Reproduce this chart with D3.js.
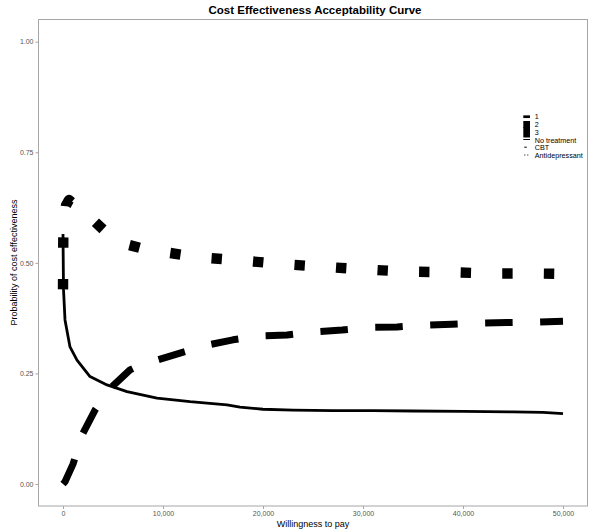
<!DOCTYPE html>
<html>
<head>
<meta charset="utf-8">
<script src="https://cdn.jsdelivr.net/npm/d3@7"></script>
<style>
  body { margin: 0; background: #fff; }
  text { font-family: "Liberation Sans", Arial, sans-serif; }
</style>
</head>
<body>
<div id="chart"></div>
<script>
// Chart values
const strategies = ['No treatment', 'CBT', 'Antidepressant'];
const sizeLabels = ['1', '2', '3'];
const xTicks = [0, 10000, 20000, 30000, 40000, 50000];
const yTicks = [0, 0.25, 0.5, 0.75, 1];

const noTreatment = [
  [0, 0.565], [50, 0.44], [200, 0.371], [700, 0.31], [1400, 0.28], [2700, 0.243],
  [4400, 0.224], [6400, 0.209], [9400, 0.194], [12700, 0.186], [16400, 0.179],
  [17700, 0.174], [20000, 0.169], [23000, 0.167], [27000, 0.166], [31000, 0.166],
  [35000, 0.165], [40000, 0.164], [45000, 0.163], [48000, 0.162], [50000, 0.159],
];

const cbt = [
  [0, 0.0], [200, 0.005], [500, 0.02], [1000, 0.045], [1500, 0.08], [2000, 0.115],
  [3200, 0.167], [4000, 0.195], [4900, 0.22], [6700, 0.258], [8000, 0.272],
  [9400, 0.28], [11700, 0.296], [14400, 0.314], [17000, 0.326], [19700, 0.335],
  [22400, 0.337], [25200, 0.344], [27900, 0.348], [30700, 0.354], [33400, 0.355],
  [36200, 0.359], [38900, 0.361], [41700, 0.364], [44400, 0.365], [47300, 0.366],
  [50000, 0.368],
];

const antidepressant = [
  [0, 0.44], [30, 0.56], [300, 0.63], [600, 0.642], [1500, 0.625], [3000, 0.597],
  [4500, 0.565], [6000, 0.544], [8000, 0.532], [9900, 0.525], [12000, 0.518],
  [14000, 0.512], [18000, 0.505], [22000, 0.497], [26100, 0.491], [30300, 0.485],
  [34400, 0.48], [38600, 0.479], [42800, 0.476], [47000, 0.476], [50000, 0.475],
];

const width = 596;
const height = 529;

const svg = d3.select('#chart').append('svg')
  .attr('width', width)
  .attr('height', height);

const x = d3.scaleLinear().domain([-2500, 52500]).range([38, 588]);
const y = d3.scaleLinear().domain([-0.05, 1.05]).range([506.1, 19.6]);

// panel border
svg.append('rect')
  .attr('x', 38.5)
  .attr('y', 19.5)
  .attr('width', 549)
  .attr('height', 486.5)
  .attr('fill', 'none')
  .attr('stroke', '#a6a6a6')
  .attr('stroke-width', 1);

// axes
function styleAxis(g) {
  g.select('.domain').remove();
  g.selectAll('.tick line').attr('stroke', '#a6a6a6');
  g.selectAll('.tick text')
    .attr('fill', '#555')
    .style('font-size', '7px')
    .style('font-family', '"Liberation Sans", Arial, sans-serif');
}

svg.append('g')
  .attr('transform', 'translate(0,506)')
  .call(d3.axisBottom(x).tickValues(xTicks).tickSize(3).tickPadding(2)
    .tickFormat(d3.format(',')))
  .call(styleAxis);

svg.append('g')
  .attr('transform', 'translate(38.5,0)')
  .call(d3.axisLeft(y).tickValues(yTicks).tickSize(3).tickPadding(2)
    .tickFormat(d3.format('.2f')))
  .call(styleAxis);

// lines
const line = d3.line()
  .x(d => x(d[0]))
  .y(d => y(d[1]));

const lineStyles = [
  { data: noTreatment, width: 2.8, dash: null },
  { data: cbt, width: 7, dash: '27.5 27.5' },
  { data: antidepressant, width: 10.4, dash: '10.4 31.2' },
];

svg.append('g').selectAll('path')
  .data(lineStyles)
  .enter()
  .append('path')
  .attr('d', s => line(s.data))
  .attr('fill', 'none')
  .attr('stroke', 'black')
  .attr('stroke-width', s => s.width)
  .attr('stroke-dasharray', s => s.dash)
  .attr('stroke-linejoin', 'round');

// title and axis labels
svg.append('text')
  .attr('x', 315)
  .attr('y', 14)
  .attr('text-anchor', 'middle')
  .attr('fill', 'black')
  .style('font-size', '11.5px')
  .style('font-weight', 'bold')
  .text('Cost Effectiveness Acceptability Curve');

svg.append('text')
  .attr('x', 313)
  .attr('y', 527)
  .attr('text-anchor', 'middle')
  .attr('fill', 'black')
  .style('font-size', '9px')
  .text('Willingness to pay');

svg.append('text')
  .attr('transform', 'translate(17,262.5) rotate(-90)')
  .attr('text-anchor', 'middle')
  .attr('fill', 'black')
  .style('font-size', '9px')
  .text('Probability of cost effectiveness');

// legend
const legend = svg.append('g').attr('transform', 'translate(523.3,0)');
const rowY = [116.7, 124.5, 132.3, 140, 147.7, 155.5];
const keyWidths = [2.7, 7, 10.4];

legend.selectAll('line.size')
  .data(sizeLabels)
  .enter()
  .append('line')
  .attr('class', 'size')
  .attr('x1', 0)
  .attr('x2', 6.7)
  .attr('y1', (d, i) => rowY[i])
  .attr('y2', (d, i) => rowY[i])
  .attr('stroke', 'black')
  .attr('stroke-width', (d, i) => keyWidths[i]);

const typeDash = [null, '2.5 10', '1 2'];
legend.selectAll('line.type')
  .data(strategies)
  .enter()
  .append('line')
  .attr('class', 'type')
  .attr('x1', (d, i) => (i === 0 ? 0 : 1))
  .attr('x2', 6.7)
  .attr('y1', (d, i) => rowY[i + 3] - 0.5)
  .attr('y2', (d, i) => rowY[i + 3] - 0.5)
  .attr('stroke', 'black')
  .attr('stroke-width', 1)
  .attr('stroke-dasharray', (d, i) => typeDash[i]);

legend.selectAll('text')
  .data(sizeLabels.concat(strategies))
  .enter()
  .append('text')
  .attr('x', 11.5)
  .attr('y', (d, i) => rowY[i] + 2.5)
  .attr('fill', 'black')
  .style('font-size', '7.2px')
  .text(d => d);
</script>
</body>
</html>
